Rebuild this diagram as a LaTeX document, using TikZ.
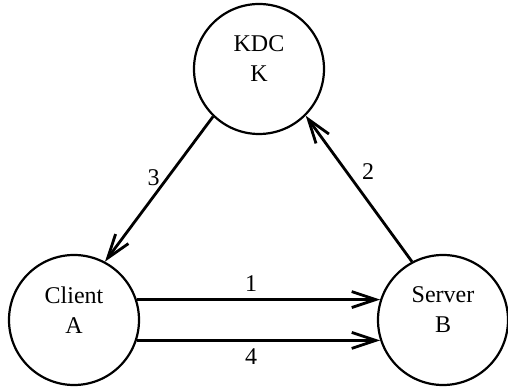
\documentclass[tikz,border=0pt]{standalone}
\usepackage{fontspec}
\setmainfont{Liberation Serif}
\usepackage{tikz}
\usetikzlibrary{arrows.meta,positioning}

\begin{document}
\begin{tikzpicture}[x=0.5pt, y=0.5pt, node distance=184.5pt, font=\fontsize{12}{15}\selectfont,
  >={Straight Barb[length=12pt, width=8pt]},
  party/.style={circle, draw, line width=1.1pt, minimum size=65pt, inner sep=0pt, align=center, text depth=10pt},
  msg/.style={->, line width=1.4pt}]
\useasboundingbox (0,0) rectangle (508,389);
% Nodes
\node[party] (client) at (74,69) {Client\\A};
\node[party, right of=client] (server) {Server\\B};
\node[party] (kdc) at (259,320) {KDC\\K};

% Messages
\draw[msg] (client.18) -- node[pos=0.47, above] {1} (server.162);
\draw[msg] (server.118) -- node[pos=0.62, right=4pt] {2} (kdc.-45);
\draw[msg] (kdc.226) -- node[pos=0.42, left] {3} (client.62);
\draw[msg] (client.-18) -- node[pos=0.47, below] {4} (server.198);
\end{tikzpicture}
\end{document}
